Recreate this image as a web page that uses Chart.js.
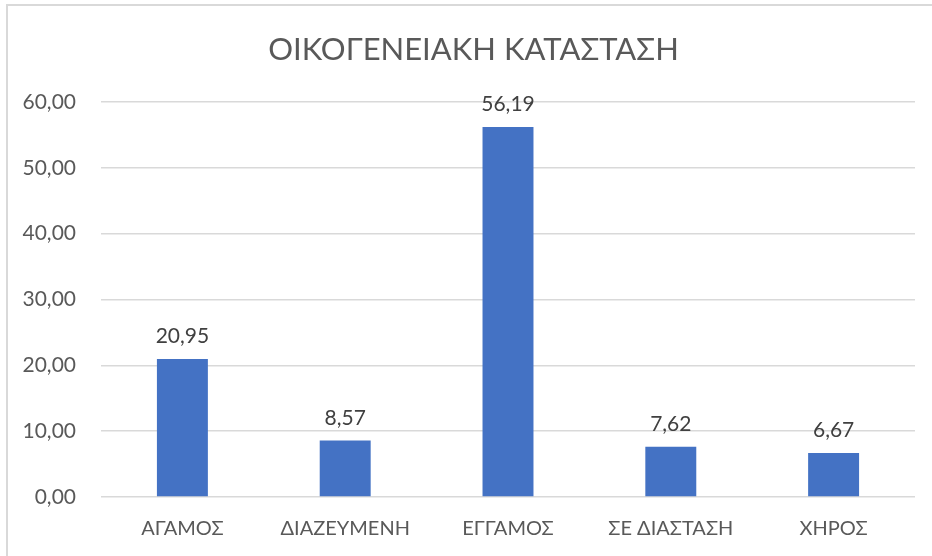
<!DOCTYPE html>
<html>
<head>
<meta charset="utf-8">
<script src="https://cdn.jsdelivr.net/npm/chart.js@4"></script>
<style>
  body { margin: 0; background: #fff; overflow: hidden; }
  #wrap { position: relative; width: 932px; height: 556px; }
  #frame { position: absolute; left: 6px; top: 4px; width: 1000px; height: 600px;
           border-left: 2px solid #d9d9d9; border-top: 2px solid #d9d9d9; }
  #chart { position: absolute; left: 0; top: 0; }
</style>
</head>
<body>
<div id="wrap">
  <div id="frame"></div>
  <canvas id="chart" width="932" height="556"></canvas>
</div>
<script>
// data
const categories = ['ΑΓΑΜΟΣ', 'ΔΙΑΖΕΥΜΕΝΗ', 'ΕΓΓΑΜΟΣ', 'ΣΕ ΔΙΑΣΤΑΣΗ', 'ΧΗΡΟΣ'];
const values = [20.95, 8.57, 56.19, 7.62, 6.67];
const chartTitle = 'ΟΙΚΟΓΕΝΕΙΑΚΗ ΚΑΤΑΣΤΑΣΗ';

const FONT = 'Lato';

function fmt(v) {
    return Number(v).toFixed(2).replace('.', ',');
}

// value labels above bars
const barLabels = {
    id: 'barLabels',
    afterDatasetsDraw: (chart) => {
        const ctx = chart.ctx;
        const meta = chart.getDatasetMeta(0);
        ctx.save();
        ctx.font = '21px ' + FONT;
        ctx.fillStyle = '#404040';
        ctx.textAlign = 'center';
        ctx.textBaseline = 'alphabetic';
        meta.data.forEach((bar, i) => {
            ctx.fillText(fmt(values[i]), bar.x, bar.y - 16);
        });
        ctx.restore();
    }
};

// title, centred a bit right of the plot like the excel original
const titlePlugin = {
    id: 'bigTitle',
    afterDraw: (chart) => {
        const ctx = chart.ctx;
        ctx.save();
        ctx.font = '31px ' + FONT;
        ctx.fillStyle = '#595959';
        ctx.textAlign = 'center';
        ctx.textBaseline = 'alphabetic';
        ctx.fillText(chartTitle, 473.5, 60);
        ctx.restore();
    }
};

new Chart(document.getElementById('chart'), {
    type: 'bar',
    data: {
        labels: categories,
        datasets: [{
            data: values,
            backgroundColor: '#4472C4',
            borderWidth: 0,
            categoryPercentage: 1,
            barPercentage: 0.313
        }]
    },
    options: {
        responsive: false,
        animation: false,
        layout: { padding: { left: 0, right: 17, top: 102, bottom: 0 } },
        plugins: {
            legend: { display: false },
            tooltip: { enabled: false },
            title: { display: false }
        },
        scales: {
            x: {
                grid: { display: false, drawTicks: false },
                border: { display: false },
                ticks: {
                    color: '#595959',
                    font: { family: FONT, size: 20 },
                    padding: 20,
                    maxRotation: 0
                },
                afterFit: (scale) => { scale.height = 59; }
            },
            y: {
                min: 0,
                max: 60,
                grid: { color: '#d9d9d9', lineWidth: 1.5, drawTicks: false },
                border: { display: false },
                ticks: {
                    stepSize: 10,
                    color: '#595959',
                    font: { family: FONT, size: 21 },
                    padding: 25,
                    callback: (v) => fmt(v)
                },
                afterFit: (scale) => { scale.width = 101; }
            }
        }
    },
    plugins: [barLabels, titlePlugin]
});
</script>
</body>
</html>
